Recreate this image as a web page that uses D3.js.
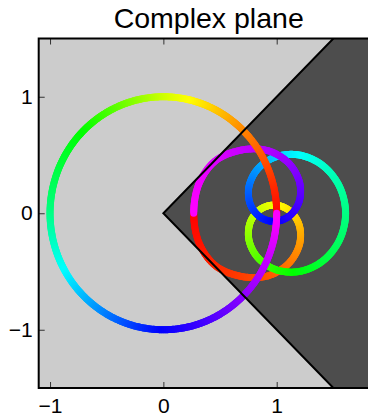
<!DOCTYPE html>
<html>
<head>
<meta charset="utf-8">
<script src="https://cdn.jsdelivr.net/npm/d3@7"></script>
<style>
  html, body { margin: 0; padding: 0; background: #fff; }
  svg { display: block; font-family: 'Liberation Sans', Arial, sans-serif; }
</style>
</head>
<body>
<div id="chart"></div>
<script>
// Axis limits and ticks
const xDomain = [-1.1, 1.9];
const yDomain = [-1.5, 1.5];
const xTicks = [-1, 0, 1];
const yTicks = [-1, 0, 1];

// Shaded sector |arg z| < 45 deg
const wedgeAngle = 45;

// Unit circle, coloured by angle
const unitCircle = { cx: 0, cy: 0, r: 1 };
const circleAngleStops = [0, 45, 90, 135, 180, 225, 270, 315, 360];
const circleHueStops = [0, 30, 70, 118, 150, 195, 240, 272, 300];

// Looping curve (one point every 10 deg of its parameter)
const curveRe = [0.268, 0.315, 0.462, 0.691, 0.915, 1.096, 1.197, 1.202, 1.121, 0.990,
  0.856, 0.766, 0.757, 0.841, 1.004, 1.211, 1.411, 1.555, 1.608, 1.555,
  1.411, 1.211, 1.004, 0.841, 0.757, 0.766, 0.856, 0.990, 1.121, 1.202,
  1.197, 1.096, 0.915, 0.691, 0.462, 0.315];
const curveIm = [0, -0.255, -0.452, -0.543, -0.539, -0.440, -0.282, -0.114, 0.016, 0.070,
  0.034, -0.080, -0.237, -0.389, -0.488, -0.498, -0.406, -0.228, 0, 0.228,
  0.406, 0.498, 0.488, 0.389, 0.237, 0.080, -0.034, -0.070, -0.016, 0.114,
  0.282, 0.440, 0.539, 0.543, 0.452, 0.255];
// hue at each point, last value closes the loop
const curveHue = [0, 4, 9, 14, 19, 26, 34, 42, 51, 60,
  69, 78, 88, 99, 111, 122, 133, 143, 150, 157,
  167, 178, 189, 201, 212, 222, 231, 240, 249, 258,
  266, 274, 281, 286, 291, 296, 300];

const width = 368;
const height = 417;
const lineW = 7;

const x = d3.scaleLinear().domain(xDomain).range([38.7, 378.7]);
const y = d3.scaleLinear().domain(yDomain).range([388, 38.5]);

const svg = d3.select('#chart')
  .append('svg')
  .attr('width', width)
  .attr('height', height);

svg.append('clipPath')
  .attr('id', 'plot-clip')
  .append('rect')
  .attr('x', x(xDomain[0]))
  .attr('y', y(yDomain[1]))
  .attr('width', x(xDomain[1]) - x(xDomain[0]))
  .attr('height', y(yDomain[0]) - y(yDomain[1]));

const plot = svg.append('g').attr('clip-path', 'url(#plot-clip)');

// Background
plot.append('rect')
  .attr('x', x(xDomain[0]))
  .attr('y', y(yDomain[1]))
  .attr('width', x(xDomain[1]) - x(xDomain[0]))
  .attr('height', y(yDomain[0]) - y(yDomain[1]))
  .attr('fill', '#cccccc');

// Sector
const slope = Math.tan(wedgeAngle * Math.PI / 180);
const wedgePts = [
  [0, 0],
  [yDomain[1] / slope, yDomain[1]],
  [xDomain[1], yDomain[1]],
  [xDomain[1], yDomain[0]],
  [-yDomain[0] / slope, yDomain[0]]
];
plot.append('path')
  .attr('d', d3.line().x(d => x(d[0])).y(d => y(d[1]))(wedgePts) + 'Z')
  .attr('fill', '#4d4d4d');

// Looping curve: Catmull-Rom through the read points, split in short coloured pieces
function catmull(p0, p1, p2, p3, t) {
  const t2 = t * t, t3 = t2 * t;
  return [0, 1].map(k => 0.5 * (2 * p1[k] + (-p0[k] + p2[k]) * t +
    (2 * p0[k] - 5 * p1[k] + 4 * p2[k] - p3[k]) * t2 +
    (-p0[k] + 3 * p1[k] - 3 * p2[k] + p3[k]) * t3));
}

const n = curveRe.length;
const pts = curveRe.map((re, i) => [x(re), y(curveIm[i])]);
const curvePieces = [];
const steps = 14;
for (let i = 0; i < n; i++) {
  const p0 = pts[(i - 1 + n) % n], p1 = pts[i], p2 = pts[(i + 1) % n], p3 = pts[(i + 2) % n];
  const h1 = curveHue[i], h2 = curveHue[i + 1];
  for (let k = 0; k < steps; k++) {
    const a = catmull(p0, p1, p2, p3, k / steps);
    const b = catmull(p0, p1, p2, p3, (k + 1) / steps);
    curvePieces.push({ a, b, hue: h1 + (h2 - h1) * (k + 0.5) / steps });
  }
}

plot.append('g')
  .selectAll('line')
  .data(curvePieces)
  .enter()
  .append('line')
  .attr('x1', d => d.a[0])
  .attr('y1', d => d.a[1])
  .attr('x2', d => d.b[0])
  .attr('y2', d => d.b[1])
  .attr('stroke', d => d3.hsl(d.hue, 1, 0.5))
  .attr('stroke-width', lineW)
  .attr('stroke-linecap', 'round');

// Unit circle
const hueOfAngle = d3.scaleLinear().domain(circleAngleStops).range(circleHueStops);
const circlePieces = d3.range(0, 360, 1).map(a => ({ a0: a, a1: a + 1 }));
const rad = a => a * Math.PI / 180;

plot.append('g')
  .selectAll('line')
  .data(circlePieces)
  .enter()
  .append('line')
  .attr('x1', d => x(unitCircle.cx + unitCircle.r * Math.cos(rad(d.a0))))
  .attr('y1', d => y(unitCircle.cy + unitCircle.r * Math.sin(rad(d.a0))))
  .attr('x2', d => x(unitCircle.cx + unitCircle.r * Math.cos(rad(d.a1))))
  .attr('y2', d => y(unitCircle.cy + unitCircle.r * Math.sin(rad(d.a1))))
  .attr('stroke', d => d3.hsl(hueOfAngle(d.a0 + 0.5), 1, 0.5))
  .attr('stroke-width', lineW)
  .attr('stroke-linecap', 'round');

// Sector edges
plot.append('path')
  .attr('d', d3.line().x(d => x(d[0])).y(d => y(d[1]))([wedgePts[1], wedgePts[0], wedgePts[4]]))
  .attr('fill', 'none')
  .attr('stroke', '#000')
  .attr('stroke-width', 2);

// Axes
const fmt = d3.format('d');

const bottomAxis = svg.append('g')
  .attr('transform', `translate(0,${y(yDomain[0])})`)
  .call(d3.axisBottom(x).tickValues(xTicks).tickSize(-6).tickPadding(10).tickFormat(fmt));

const topAxis = svg.append('g')
  .attr('transform', `translate(0,${y(yDomain[1])})`)
  .call(d3.axisTop(x).tickValues(xTicks).tickSize(-6).tickFormat(''));

const leftAxis = svg.append('g')
  .attr('transform', `translate(${x(xDomain[0])},0)`)
  .call(d3.axisLeft(y).tickValues(yTicks).tickSize(-6).tickPadding(6).tickFormat(fmt));

[bottomAxis, topAxis, leftAxis].forEach(g => {
  g.select('.domain').remove();
  g.selectAll('.tick line').attr('stroke', '#333').attr('stroke-width', 1);
  g.selectAll('.tick text')
    .attr('fill', '#000')
    .style('font-size', '21px')
    .style('font-family', "'Liberation Sans', Arial, sans-serif");
});

// Frame (right side runs off the picture)
svg.append('rect')
  .attr('x', x(xDomain[0]))
  .attr('y', y(yDomain[1]))
  .attr('width', x(xDomain[1]) - x(xDomain[0]))
  .attr('height', y(yDomain[0]) - y(yDomain[1]))
  .attr('fill', 'none')
  .attr('stroke', '#000')
  .attr('stroke-width', 2);

// Title
svg.append('text')
  .attr('x', (x(xDomain[0]) + x(xDomain[1])) / 2)
  .attr('y', 28)
  .attr('text-anchor', 'middle')
  .style('font-size', '28.5px')
  .text('Complex plane');
</script>
</body>
</html>
